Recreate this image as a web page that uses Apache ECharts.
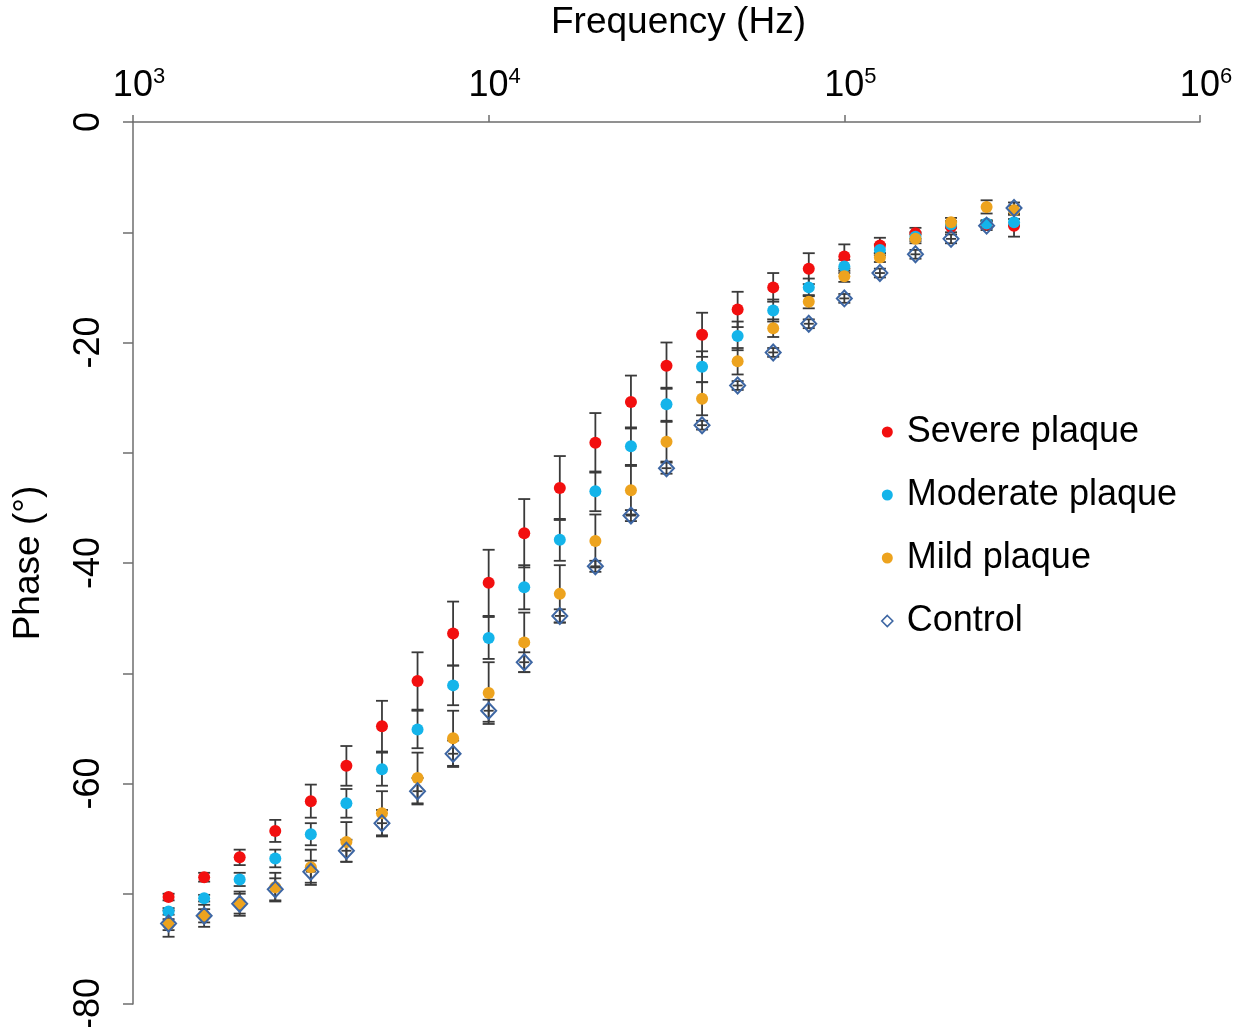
<!DOCTYPE html>
<html><head><meta charset="utf-8">
<script src="https://cdn.jsdelivr.net/npm/echarts@6/dist/echarts.min.js"></script>
<style>html,body{margin:0;padding:0;background:#fff}#c{width:1240px;height:1027px}</style>
</head><body><div id="c"></div>
<script>
// Frequencies (Hz)
const frequencies = [1259, 1585, 1995, 2512, 3162, 3981, 5012, 6310, 7943, 10000, 12589, 15849, 19953, 25119, 31623, 39811, 50119, 63096, 79433, 100000, 125893, 158489, 199526, 251189, 300000];
// Phase (deg) per group
const severe   = [-70.3, -68.5, -66.7, -64.3, -61.6, -58.4, -54.8, -50.7, -46.4, -41.8, -37.3, -33.2, -29.1, -25.4, -22.1, -19.3, -17.0, -15.0, -13.3, -12.2, -11.2, -10.1, -9.5, -9.3, -9.4];
const moderate = [-71.6, -70.4, -68.7, -66.8, -64.6, -61.8, -58.7, -55.1, -51.1, -46.8, -42.2, -37.9, -33.5, -29.4, -25.6, -22.2, -19.4, -17.1, -15.0, -13.1, -11.6, -10.4, -9.3, -9.2, -9.1];
const mild     = [-72.8, -72.0, -70.9, -69.4, -67.6, -65.3, -62.7, -59.5, -55.9, -51.8, -47.2, -42.8, -38.0, -33.4, -29.0, -25.1, -21.7, -18.7, -16.3, -14.0, -12.3, -10.6, -9.1, -7.7, -8.0];
const control  = [-72.7, -72.0, -70.9, -69.6, -68.0, -66.1, -63.6, -60.7, -57.3, -53.4, -49.0, -44.8, -40.3, -35.7, -31.4, -27.5, -23.9, -20.9, -18.3, -16.0, -13.7, -12.0, -10.6, -9.4, -7.8];
// Error bar half-lengths (deg)
const severeErr   = [0.3, 0.4, 0.7, 1.0, 1.5, 1.8, 2.3, 2.6, 2.9, 3.0, 3.1, 2.9, 2.7, 2.4, 2.1, 2.0, 1.6, 1.3, 1.4, 1.1, 0.7, 0.5, 0.5, 0.3, 1.0];
const moderateErr = [0.3, 0.3, 0.6, 0.8, 1.0, 1.3, 1.5, 1.7, 1.8, 1.9, 2.0, 1.9, 1.8, 1.7, 1.5, 1.4, 1.3, 1.0, 0.8, 0.6, 0.5, 0.4, 0.3, 0.3, 0.3];
const mildErr     = [0.5, 0.6, 0.9, 1.3, 1.6, 1.8, 2.0, 2.3, 2.5, 2.8, 2.7, 2.6, 2.4, 2.2, 1.8, 1.5, 1.2, 0.8, 0.6, 0.5, 0.4, 0.4, 0.4, 0.6, 0.4];
const controlErr  = [1.2, 1.0, 1.1, 1.0, 1.0, 1.0, 1.2, 1.2, 1.2, 1.0, 0.9, 0.6, 0.5, 0.5, 0.5, 0.4, 0.4, 0.4, 0.4, 0.4, 0.4, 0.4, 0.4, 0.4, 0.5];
const seriesNames = ['Severe plaque', 'Moderate plaque', 'Mild plaque', 'Control'];
const yTickLabels = ['0', '-20', '-40', '-60', '-80'];

const FONT = '"Liberation Sans", Arial, Helvetica, sans-serif';
const AXIS = '#6e6e6e';
const chart = echarts.init(document.getElementById('c'));

function pts(vals) { return frequencies.map((f, i) => [f, vals[i]]); }
function bars(vals, errs) { return frequencies.map((f, i) => [f, vals[i] - errs[i], vals[i] + errs[i], vals[i]]); }

function errRender(cross) {
  return function (params, api) {
    const x = api.value(0);
    const lo = api.coord([x, api.value(1)]);
    const hi = api.coord([x, api.value(2)]);
    const c = api.coord([x, api.value(3)]);
    const w = 6;
    const st = { stroke: '#3a3a3a', lineWidth: 1.8, fill: null };
    const children = [
      { type: 'line', shape: { x1: lo[0], y1: lo[1], x2: hi[0], y2: hi[1] }, style: st },
      { type: 'line', shape: { x1: lo[0] - w, y1: lo[1], x2: lo[0] + w, y2: lo[1] }, style: st },
      { type: 'line', shape: { x1: hi[0] - w, y1: hi[1], x2: hi[0] + w, y2: hi[1] }, style: st }
    ];
    if (cross) children.push({ type: 'line', shape: { x1: c[0] - 5, y1: c[1], x2: c[0] + 5, y2: c[1] }, style: st });
    return { type: 'group', children: children };
  };
}

function errSeries(name, vals, errs, cross) {
  return { type: 'custom', name: name, renderItem: errRender(cross), data: bars(vals, errs),
    encode: { x: 0, y: [1, 2] }, z: 1, silent: true };
}

const option = {
  animation: false,
  backgroundColor: '#fff',
  grid: { left: 133, right: 40, top: 122, bottom: 23, containLabel: false, outerBoundsMode: 'none' },
  legend: {
    data: [
      { name: seriesNames[0] }, { name: seriesNames[1] }, { name: seriesNames[2] },
      { name: seriesNames[3], itemStyle: { borderWidth: 1.6 } }
    ],
    orient: 'vertical', left: 876, top: 407, itemWidth: 11, itemHeight: 11, itemGap: 23,
    textStyle: { fontSize: 36, fontFamily: FONT, color: '#000', lineHeight: 40, padding: [0, 0, 0, 9] },
    selectedMode: false
  },
  xAxis: {
    type: 'log', logBase: 10, min: 1000, max: 1000000, position: 'top',
    axisLine: { show: true, onZero: false, lineStyle: { color: AXIS, width: 1.5 } },
    axisTick: { show: true, inside: false, length: 7, lineStyle: { color: AXIS, width: 1.5 } },
    minorTick: { show: false }, splitLine: { show: false },
    axisLabel: {
      margin: 16,
      formatter: v => '{b|10}{s|' + Math.round(Math.log10(v)) + '}',
      rich: {
        b: { fontSize: 36, fontFamily: FONT, color: '#000', lineHeight: 40, padding: [0, 0, 0, 12] },
        s: { fontSize: 22, fontFamily: FONT, color: '#000', verticalAlign: 'top', lineHeight: 22 }
      }
    },
    name: 'Frequency (Hz)', nameLocation: 'middle', nameGap: 81,
    nameTextStyle: { fontSize: 37, fontFamily: FONT, color: '#000', padding: [0, 0, 0, 24] }
  },
  yAxis: {
    type: 'value', min: -80, max: 0, interval: 10,
    axisLine: { show: true, onZero: false, lineStyle: { color: AXIS, width: 1.5 } },
    axisTick: { show: true, inside: false, length: 10, lineStyle: { color: AXIS, width: 1.5 } },
    splitLine: { show: false },
    axisLabel: {
      rotate: 90, margin: 26, fontSize: 36, fontFamily: FONT, color: '#000',
      formatter: v => (yTickLabels.indexOf(String(v)) >= 0 ? String(v) : '')
    },
    name: 'Phase (°)', nameLocation: 'middle', nameRotate: 90, nameGap: 86,
    nameTextStyle: { fontSize: 37, fontFamily: FONT, color: '#000' }
  },
  series: [
    errSeries('e0', severe, severeErr, false),
    errSeries('e1', moderate, moderateErr, false),
    errSeries('e2', mild, mildErr, false),
    errSeries('e3', control, controlErr, true),
    { type: 'scatter', name: seriesNames[0], data: pts(severe), symbol: 'circle', symbolSize: 12,
      itemStyle: { color: '#F20F0F', opacity: 1 }, z: 3 },
    { type: 'scatter', name: seriesNames[1], data: pts(moderate), symbol: 'circle', symbolSize: 12,
      itemStyle: { color: '#14B4EA', opacity: 1 }, z: 3 },
    { type: 'scatter', name: seriesNames[2], data: pts(mild), symbol: 'circle', symbolSize: 12,
      itemStyle: { color: '#EDA31E', opacity: 1 }, z: 3 },
    { type: 'scatter', name: seriesNames[3], data: pts(control), symbol: 'diamond', symbolSize: [15, 16],
      itemStyle: { color: 'rgba(255,255,255,0)', borderColor: '#3D66A3', borderWidth: 2, opacity: 1 }, z: 4 }
  ]
};
chart.setOption(option);
</script></body></html>
